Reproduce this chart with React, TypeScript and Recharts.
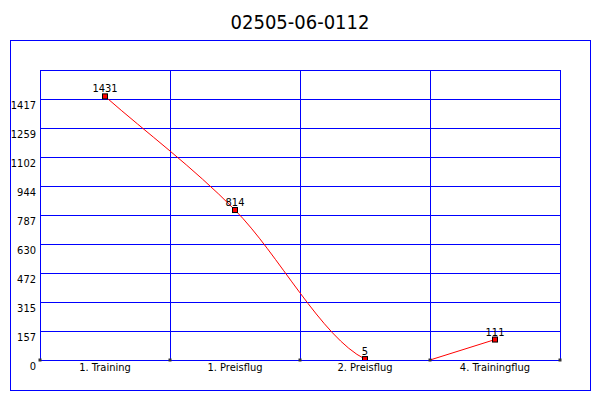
import { LineChart, Line, XAxis, YAxis, CartesianGrid } from 'recharts'

const TITLE = '02505-06-0112'
const categories = ['1. Training', '1. Preisflug', '2. Preisflug', '4. Trainingflug']
const values = [1431, 814, 5, 111]
// last segment restarts from zero at the left edge of its category
const restartValue = 0

const FONT = '"DejaVu Sans Condensed", "DejaVu Sans", sans-serif'
const BLUE = '#0000FF'

const yMax = Math.max(...values) * 1.1
const yTicks = Array.from({ length: 11 }, (_, i) => (yMax / 10) * i)
const gridTicks = categories.map((_, i) => i).concat(categories.length)
const catTicks = categories.map((_, i) => i + 0.5)

const mainData = values.map((v, i) => ({ x: i + 0.5, value: v }))
const tailData = [
  { x: categories.length - 1, value: restartValue },
  { x: categories.length - 0.5, value: values[values.length - 1] }
]

// cardinal spline through the points; the last point only steers the
// tangent, its segment is not stroked (the original breaks the line there)
const guidedSpline = (context: any) => {
  let xs: number[] = []
  let ys: number[] = []
  return {
    areaStart() {},
    areaEnd() {},
    lineStart() { xs = []; ys = [] },
    point(x: number, y: number) { xs.push(+x); ys.push(+y) },
    lineEnd() {
      const n = xs.length
      if (n < 2) return
      const slope = (i: number) => {
        if (i === 0) return (ys[1] - ys[0]) / (xs[1] - xs[0])
        if (i === n - 1) return (ys[n - 1] - ys[n - 2]) / (xs[n - 1] - xs[n - 2])
        return (ys[i + 1] - ys[i - 1]) / (xs[i + 1] - xs[i - 1])
      }
      context.moveTo(xs[0], ys[0])
      for (let i = 0; i < n - 2; i++) {
        const h = xs[i + 1] - xs[i]
        const m0 = slope(i)
        const m1 = slope(i + 1)
        context.bezierCurveTo(
          xs[i] + h / 3, ys[i] + (m0 * h) / 3,
          xs[i + 1] - h / 3, ys[i + 1] - (m1 * h) / 3,
          xs[i + 1], ys[i + 1]
        )
      }
    }
  }
}

const Dot = (props: any) => {
  const { cx, cy, index } = props
  return (
    <rect key={`d-${index}`} x={cx - 2.5} y={cy - 2.5} width={5} height={5}
      fill="#FF0000" stroke="#000" strokeWidth={1} />
  )
}

const ValueLabel = (props: any) => {
  const { x, y, value } = props
  return (
    <text x={x} y={y - 4} textAnchor="middle" fontSize={11} fontFamily={FONT} fill="#000">
      {value}
    </text>
  )
}

const YTick = (props: any) => {
  const { x, y, payload } = props
  if (payload.value > yMax - 0.01) return <g />
  return (
    <text x={x} y={y + 10} textAnchor="end" fontSize={11} fontFamily={FONT} fill="#000">
      {Math.round(payload.value)}
    </text>
  )
}

const CatTick = (props: any) => {
  const { x, y, payload } = props
  return (
    <text x={x} y={y + 10} textAnchor="middle" fontSize={11} fontFamily={FONT} fill="#000">
      {categories[Math.floor(payload.value)]}
    </text>
  )
}

const GridTick = (props: any) => {
  const { x, y } = props
  return <rect x={x - 1.5} y={y - 1.5} width={3} height={3} fill="#333" />
}

export default function App() {
  return (
    <div style={{ position: 'absolute', left: 0, top: 0, width: 600, height: 400, background: '#fff' }}>
      <style>{`.recharts-cartesian-grid line { shape-rendering: crispEdges; }`}</style>
      <div style={{
        position: 'absolute', left: 0, top: 8, width: 600, textAlign: 'center',
        fontFamily: FONT, fontSize: 20, color: '#000', lineHeight: '28px'
      }}>
        {TITLE}
      </div>
      <div style={{
        position: 'absolute', left: 10, top: 40, width: 579, height: 349,
        border: `1px solid ${BLUE}`
      }} />
      <div style={{ position: 'absolute', left: 0, top: 0 }}>
        <LineChart width={600} height={400} margin={{ top: 70, right: 40, left: 5, bottom: 20 }}>
          <CartesianGrid xAxisId={0} stroke={BLUE} strokeWidth={1}
            verticalCoordinatesGenerator={({ offset }: any) =>
              gridTicks.map((t) => offset.left + (t / categories.length) * offset.width)} />
          <XAxis xAxisId={0} type="number" dataKey="x" domain={[0, categories.length]} ticks={gridTicks}
            height={1} axisLine={false} tickLine={false} tickSize={0} tickMargin={0}
            tick={<GridTick />} interval={0} allowDataOverflow />
          <XAxis xAxisId={1} type="number" dataKey="x" domain={[0, categories.length]} ticks={catTicks}
            height={19} axisLine={false} tickLine={false} tickSize={0} tickMargin={0}
            tick={<CatTick />} interval={0} allowDataOverflow />
          <YAxis type="number" domain={[0, yMax]} ticks={yTicks} width={35} interval={0}
            axisLine={false} tickLine={false} tickSize={0} tickMargin={4}
            tick={<YTick />} allowDataOverflow />
          <Line xAxisId={0} data={tailData} dataKey="value" type="linear"
            stroke="#FF0000" strokeWidth={1} dot={false} activeDot={false}
            isAnimationActive={false} />
          <Line xAxisId={1} data={mainData} dataKey="value" type={guidedSpline as any}
            stroke="#FF0000" strokeWidth={1} dot={<Dot />} activeDot={false}
            label={<ValueLabel />} isAnimationActive={false} />
        </LineChart>
      </div>
    </div>
  )
}
